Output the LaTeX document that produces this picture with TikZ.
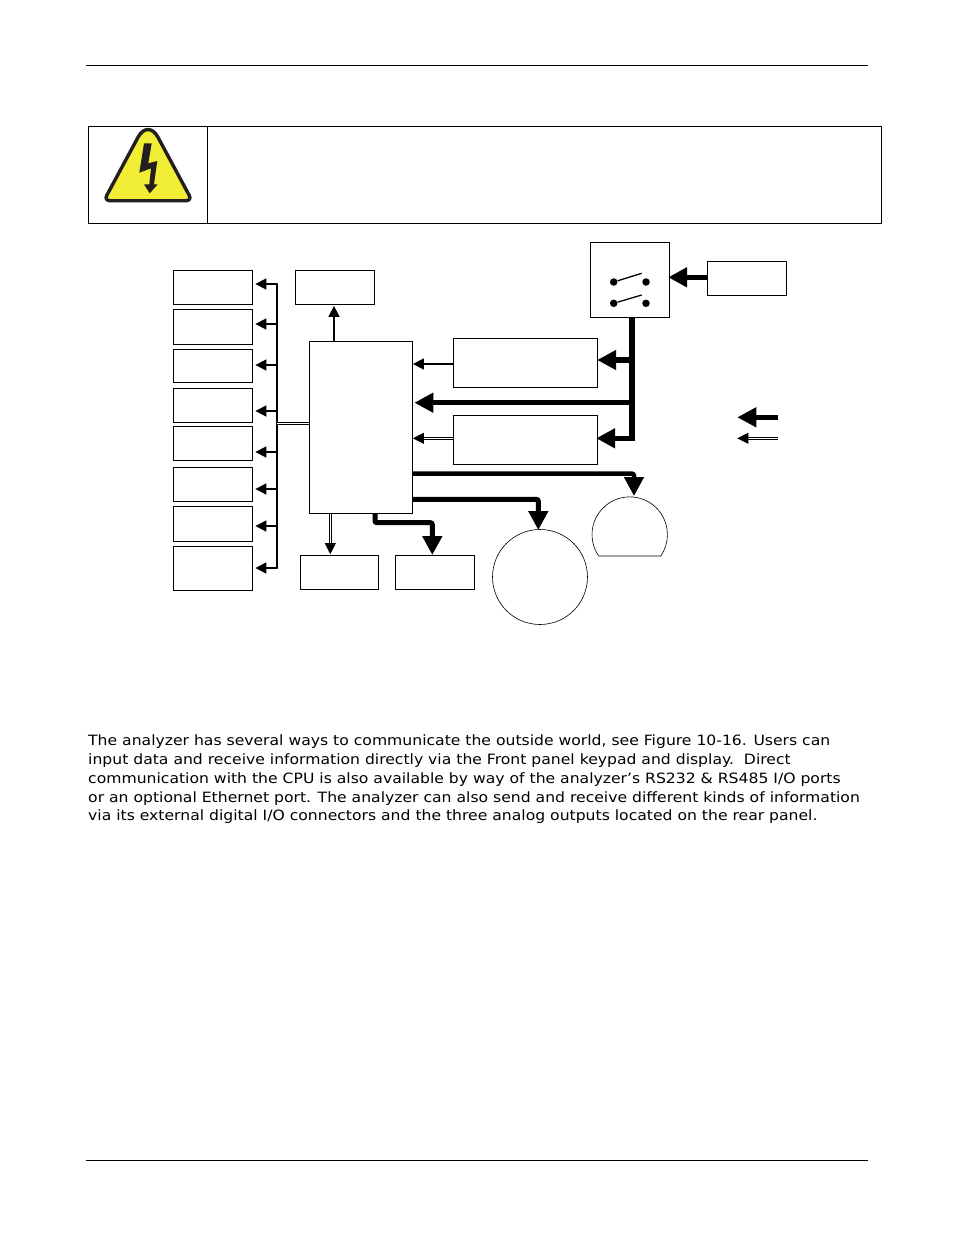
\documentclass[tikz,border=0pt]{standalone}
\usepackage{fontspec}
\setmainfont{DejaVu Sans}
\newfontfamily\bodyfont[FakeStretch=1.1]{DejaVu Sans}
\usetikzlibrary{positioning,arrows.meta,calc}
\definecolor{warnfill}{RGB}{242,238,53}
\definecolor{warnedge}{RGB}{35,31,32}
\begin{document}
\begin{tikzpicture}[
  x=1pt,y=-1pt,
  block/.style={rectangle,draw,line width=0.8pt,inner sep=0pt,fill=white},
  sidebox/.style={block,minimum width=79pt},
  conn/.style ={line width=1.6pt,-{Triangle[length=11pt,width=11pt]}},
  heavy/.style={line width=5pt,rounded corners=2pt,-{Triangle[length=19pt,width=19pt]}},
  dbl/.style  ={double,line width=0.7pt,double distance=1.1pt},
  dblarr/.style={dbl,-{Triangle[length=11pt,width=11pt]}},
  contact/.style={circle,fill,minimum size=7.5pt,inner sep=0pt},
  rule/.style ={line width=0.8pt}
]
\useasboundingbox (0,0) rectangle (954,1235);
\fill[white] (0,0) rectangle (954,1235);
\draw[rule] (86,65.5) -- (868,65.5);
\draw[rule] (86,1160.5) -- (868,1160.5);
% warning strip
\node[block,minimum width=793pt,minimum height=97pt] (warnbox) at (485,175) {};
\coordinate (warntop) at (207.5,126.5);
\draw[rule] (warntop) -- (warntop |- warnbox.south);
\draw[warnedge,fill=warnfill,line width=3.4pt,line join=round]
  (148,200.7) [rounded corners=6pt] -- (103.9,200.7) [rounded corners=21pt] -- (148,118.7)
  [rounded corners=6pt] -- (192.1,200.7) -- cycle;
\fill[warnedge] (144,143.3) -- (151.7,143.3) -- (148.3,163.3) -- (157.3,161) -- (154,184.3)
  -- (157.7,184.3) -- (149.7,193.3) -- (144,184.3) -- (149.3,184.3) -- (151,168.3)
  -- (139.3,172.7) -- cycle;
% left column
\node[sidebox,minimum height=34pt] (out1) at (213,287) {};
\node[sidebox,minimum height=34.5pt] (out2) at (213,326.75) {};
\node[sidebox,minimum height=33pt] (out3) at (213,366) {};
\node[sidebox,minimum height=34pt] (out4) at (213,405.5) {};
\node[sidebox,minimum height=33.5pt] (out5) at (213,443.25) {};
\node[sidebox,minimum height=33.5pt] (out6) at (213,484.25) {};
\node[sidebox,minimum height=34.5pt] (out7) at (213,523.75) {};
\node[sidebox,minimum height=43.5pt] (out8) at (213,568.25) {};
% middle
\node[sidebox,minimum height=34pt] (top) at (335,287) {};
\node[block,minimum width=103pt,minimum height=172pt] (cpu) at (361,427.5) {};
\node[block,minimum width=78pt,minimum height=33.5pt] (low1) at (339.5,572.25) {};
\node[sidebox,minimum height=33.5pt] (low2) at (435,572.25) {};
\node[block,minimum width=144pt,minimum height=49pt] (board1) at (525.3,362.8) {};
\node[block,minimum width=144pt,minimum height=49pt] (board2) at (525.3,439.8) {};
\node[block,minimum width=79pt,minimum height=75pt] (switch) at (629.8,279.8) {};
\node[sidebox,minimum height=34pt] (mains) at (747,278.3) {};
\node[circle,draw,line width=0.6pt,minimum size=95pt,inner sep=0pt] (disc) at (540,577) {};
% half round shape
\coordinate (dome) at (634,496);
\draw[line width=0.6pt] (598.7,556) arc[start angle=145.4,end angle=394.6,radius=37.7] -- cycle;
% switch contacts
\foreach \n/\y/\t in {a/282/273.3,b/303.3/295}{
  \node[contact] (l\n) at (613.7,\y) {};
  \node[contact] (r\n) at (646,\y) {};
  \coordinate (t\n) at (641.7,\t);
  \draw[line width=1.3pt] (l\n) -- (t\n);
}
% left bus
\coordinate (busa) at (277,284);
\coordinate (busb) at (277,568);
\coordinate (busm) at (277,423.3);
\draw[line width=1.8pt,line cap=round] (busa) -- (busb);
\foreach \i/\y in {1/284,2/324,3/365,4/411,5/452,6/489,7/526,8/568}{
  \coordinate (tap\i) at (277,\y);
  \draw[conn,line cap=round,shorten >=2.5pt] (tap\i) -- (tap\i -| out\i.east);
}
\draw[dbl] (busm) -- (busm -| cpu.west);
% cpu links
\coordinate (ctop) at (334,341.5);
\draw[conn,shorten >=1.5pt] (ctop) -- (ctop |- top.south);
\coordinate (cdbl) at (330.3,513.5);
\draw[dblarr,shorten >=1pt] (cdbl) -- (cdbl |- low1.north);
\coordinate (cfat) at (375,513.5);
\coordinate (lowtip) at (432.3,555);
\draw[heavy] (cfat) |- (432.3,522.7) -- (lowtip);
\coordinate (b1) at (453.3,364);
\draw[conn] (b1) -- (b1 -| cpu.east);
\coordinate (b2) at (453.3,438.3);
\draw[dblarr] (b2) -- (b2 -| cpu.east);
% power bus
\coordinate (pa) at (632,317.3);
\coordinate (pb) at (632,360);
\coordinate (pc) at (632,402.7);
\coordinate (pd) at (632,438.3);
\draw[line width=5.5pt] (pa) -- ($(pd)+(0,2.75)$);
\draw[heavy,line width=5.5pt,rounded corners=0pt,shorten >=-0.5pt] (pb) -- (pb -| board1.east);
\draw[heavy,line width=5.5pt,rounded corners=0pt,shorten >=1.5pt] (pc) -- (pc -| cpu.east);
\draw[heavy,line width=5.5pt,rounded corners=0pt,shorten >=-1.5pt] (pd) -- (pd -| board2.east);
\coordinate (mainin) at (707.3,277.3);
\draw[heavy,rounded corners=0pt,shorten >=-1.5pt] (mainin) -- (mainin -| switch.east);
% outputs to round shapes
\coordinate (oa) at (412.5,473.7);
\coordinate (ob) at (412.5,499.3);
\coordinate (disctip) at (538.3,530);
\draw[heavy,line width=4.5pt] (oa) -| (dome);
\draw[heavy] (ob) -| (disctip);
% legend
\coordinate (lega) at (778,417.3);
\coordinate (legb) at (778,438.3);
\coordinate (legc) at (737.3,417.3);
\coordinate (legd) at (737.3,438.3);
\draw[heavy,line width=4.5pt,rounded corners=0pt] (lega) -- (legc);
\draw[dblarr] (legb) -- (legd);
% paragraph
\node[anchor=north west,inner sep=0pt,align=left,font=\bodyfont\fontsize{14.2pt}{18.8pt}\selectfont] (para) at (88,734.7)
 {The analyzer has several ways to communicate the outside world, see Figure 10-16. Users can\\
  input data and receive information directly via the Front panel keypad and display.\ \ Direct\\
  communication with the CPU is also available by way of the analyzer’s RS232 \& RS485 I/O ports\\
  or an optional Ethernet port. The analyzer can also send and receive different kinds of information\\
  via its external digital I/O connectors and the three analog outputs located on the rear panel.};
\end{tikzpicture}
\end{document}
